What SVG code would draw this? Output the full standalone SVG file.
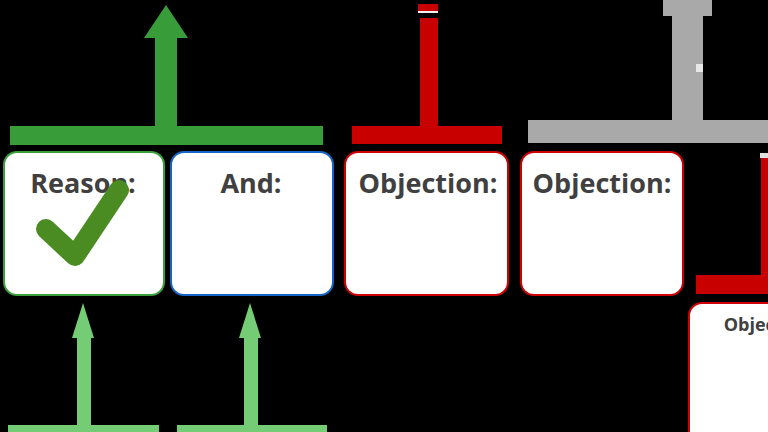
<svg xmlns="http://www.w3.org/2000/svg" width="768" height="432" viewBox="0 0 768 432">
<style>
.box{fill:#fff;stroke-width:2}
.lbl{font-family:"Open Sans","Noto Sans","DejaVu Sans",sans-serif;font-weight:bold;font-size:27px;fill:#404040;text-anchor:middle}
.green{fill:#389c38}
.light{fill:#74cc74}
.red{fill:#c80000}
.gray{fill:#a9a9a9}
</style>
<rect width="768" height="432" fill="#000"/>
<g id="connectors">
  <rect class="green" x="10" y="126" width="313" height="19"/>
  <rect class="green" x="155" y="37" width="22" height="90"/>
  <polygon class="green" points="166,5 144,38 188,38"/>
  <rect class="red" x="352" y="126" width="150" height="18"/>
  <rect class="red" x="420" y="18" width="18" height="109"/>
  <rect class="red" x="418" y="4" width="20" height="7"/>
  <rect x="418" y="11" width="20" height="2" fill="#f0f0f0"/>
  <rect class="gray" x="528" y="120" width="240" height="23"/>
  <rect class="gray" x="672" y="15" width="31" height="106"/>
  <rect class="gray" x="663" y="0" width="49" height="16"/>
  <rect x="696" y="64" width="7" height="8" fill="#e8e8e8"/>
  <rect class="red" x="696" y="275" width="72" height="19"/>
  <rect class="red" x="761" y="156" width="7" height="120"/>
  <rect x="760" y="153" width="8" height="5" fill="#e0e0e0"/>
  <rect class="light" x="8" y="425" width="151" height="7"/>
  <rect class="light" x="77" y="336" width="14" height="90"/>
  <polygon class="light" points="83,303 72,338 94,338"/>
  <rect class="light" x="177" y="425" width="150" height="7"/>
  <rect class="light" x="244" y="336" width="14" height="90"/>
  <polygon class="light" points="250,303 239,338 261,338"/>
</g>
<g id="reason">
  <rect class="box" x="4" y="152" width="160" height="143" rx="13" stroke="#3a9e3a"/>
  <text class="lbl" x="83" y="193">Reason:</text>
  <polyline points="46,229 75,256 119,190" fill="none" stroke="#4a8c22" stroke-width="20" stroke-linecap="round" stroke-linejoin="round"/>
</g>
<g id="and">
  <rect class="box" x="171" y="152" width="162" height="143" rx="13" stroke="#1565c8"/>
  <text class="lbl" x="251" y="193">And:</text>
</g>
<g id="objection1">
  <rect class="box" x="345" y="152" width="163" height="143" rx="13" stroke="#d00000"/>
  <text class="lbl" x="428" y="193">Objection:</text>
</g>
<g id="objection2">
  <rect class="box" x="521" y="152" width="162" height="143" rx="13" stroke="#d00000"/>
  <text class="lbl" x="602" y="193">Objection:</text>
</g>
<g id="objection3">
  <rect class="box" x="689" y="303" width="162" height="143" rx="13" stroke="#d00000"/>
  <text class="lbl" x="770" y="331" style="font-size:18px">Objection:</text>
</g>
</svg>
